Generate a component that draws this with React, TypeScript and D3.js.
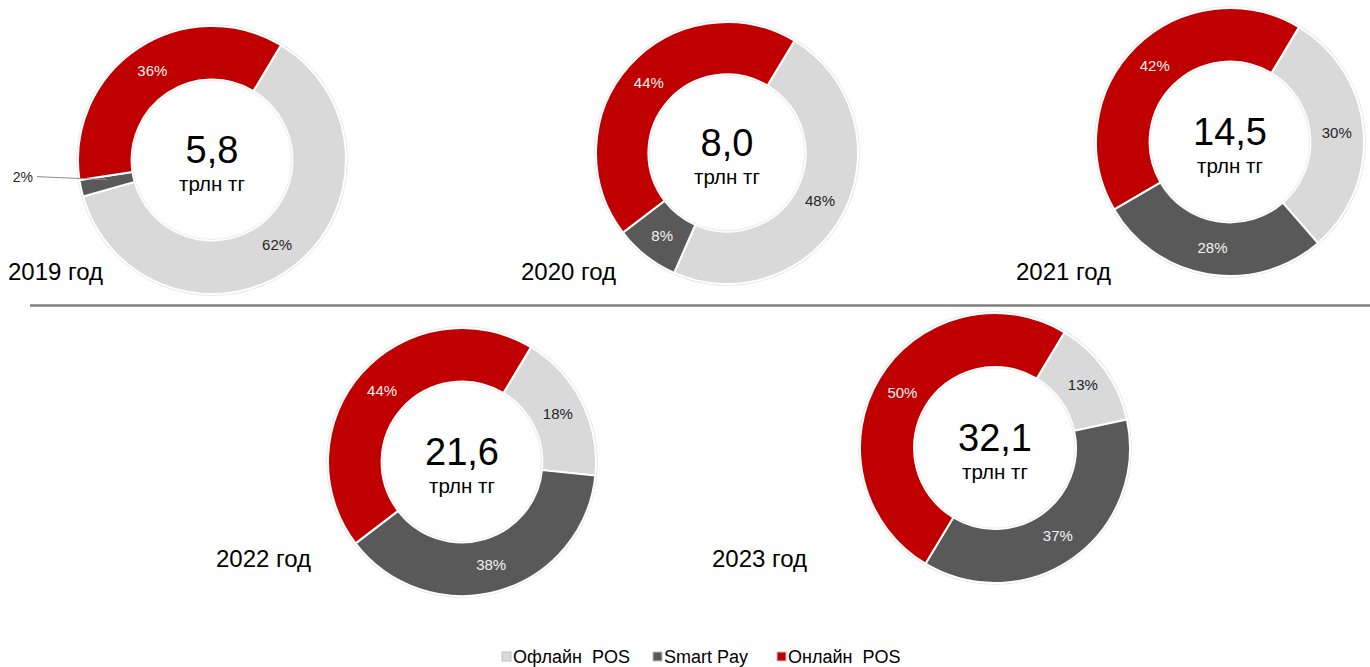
import React, { useRef, useEffect } from "react";
import * as d3 from "d3";

// data
const years = ["2019 год", "2020 год", "2021 год", "2022 год", "2023 год"];
const totals = ["5,8", "8,0", "14,5", "21,6", "32,1"];
const seriesNames = ["Офлайн POS", "Smart Pay", "Онлайн POS"];
const offline = [62, 48, 30, 18, 13];
const smartPay = [2, 8, 28, 38, 37];
const online = [36, 44, 42, 44, 50];

const colors = ["#D9D9D9", "#595959", "#C00000"];
const labelColors = ["#262626", "#F2F2F2", "#F2F2F2"];

// where each donut sits on the page
const layout = [
  { cx: 212, cy: 160, r: 134, yx: 8, yy: 280 },
  { cx: 727, cy: 153, r: 131, yx: 521, yy: 280 },
  { cx: 1230, cy: 142, r: 134, yx: 1016, yy: 280 },
  { cx: 462, cy: 462, r: 134, yx: 216, yy: 567 },
  { cx: 995, cy: 448, r: 135, yx: 712, yy: 567 },
];

const W = 1370;
const H = 667;
const FONT = "'Liberation Sans', Arial, sans-serif";

function App() {
  const svgRef = useRef<SVGSVGElement>(null);

  useEffect(() => {
    const svg = d3.select(svgRef.current);
    svg.selectAll("*").remove();

    const start = (31 * Math.PI) / 180;
    const pie = d3
      .pie<number>()
      .sort(null)
      .value((d) => d)
      .startAngle(start)
      .endAngle(start + 2 * Math.PI);

    years.forEach((year, i) => {
      const { cx, cy, r, yx, yy } = layout[i];
      const inner = r * 0.6;
      const vals = [offline[i], smartPay[i], online[i]];
      const arcs = pie(vals);
      const arc = d3.arc<d3.PieArcDatum<number>>().innerRadius(inner).outerRadius(r);
      const mid = (inner + r) / 2;

      const g = svg.append("g").attr("transform", `translate(${cx},${cy})`);

      g.append("circle")
        .attr("r", r + 1)
        .attr("fill", "none")
        .attr("stroke", "#e3e3e3")
        .attr("stroke-width", 1.5);

      g.selectAll(".slice")
        .data(arcs)
        .join("path")
        .attr("d", arc)
        .attr("fill", (d, j) => colors[j])
        .attr("stroke", "#fff")
        .attr("stroke-width", 2);

      g.append("circle")
        .attr("r", inner - 1)
        .attr("fill", "none")
        .attr("stroke", "#ececec")
        .attr("stroke-width", 1);

      arcs.forEach((a, j) => {
        const ang = (a.startAngle + a.endAngle) / 2;
        const px = mid * Math.sin(ang);
        const py = -mid * Math.cos(ang);
        if (a.data < 5) {
          // small slice: label outside with a leader line
          g.append("line")
            .attr("x1", px)
            .attr("y1", py - 3)
            .attr("x2", 37 - cx)
            .attr("y2", py - 6)
            .attr("stroke", "#8c8c8c")
            .attr("stroke-width", 1);
          g.append("text")
            .attr("x", 33 - cx)
            .attr("y", py - 1)
            .attr("text-anchor", "end")
            .attr("font-family", FONT)
            .attr("font-size", 14)
            .attr("fill", "#262626")
            .text(a.data + "%");
        } else {
          g.append("text")
            .attr("x", px)
            .attr("y", py)
            .attr("dy", "0.35em")
            .attr("text-anchor", "middle")
            .attr("font-family", FONT)
            .attr("font-size", 15)
            .attr("fill", labelColors[j])
            .text(a.data + "%");
        }
      });

      g.append("text")
        .attr("y", 3)
        .attr("text-anchor", "middle")
        .attr("font-family", FONT)
        .attr("font-size", 38)
        .attr("fill", "#000")
        .text(totals[i]);

      g.append("text")
        .attr("y", 31)
        .attr("text-anchor", "middle")
        .attr("font-family", FONT)
        .attr("font-size", 20.5)
        .attr("fill", "#000")
        .text("трлн тг");

      svg.append("text")
        .attr("x", yx)
        .attr("y", yy)
        .attr("font-family", FONT)
        .attr("font-size", 24)
        .attr("fill", "#000")
        .text(year);
    });

    // separator between rows
    svg.append("line")
      .attr("x1", 30)
      .attr("x2", W)
      .attr("y1", 305.5)
      .attr("y2", 305.5)
      .attr("stroke", "#808080")
      .attr("stroke-width", 2.5);

    // legend
    const legendX = [502, 653, 777];
    const legend = svg.append("g");
    seriesNames.forEach((name, j) => {
      legend.append("rect")
        .attr("x", legendX[j])
        .attr("y", 652)
        .attr("width", 9)
        .attr("height", 9)
        .attr("fill", colors[j])
        .attr("stroke", "#bfbfbf")
        .attr("stroke-width", 1);
      legend.append("text")
        .attr("x", legendX[j] + 11)
        .attr("y", 662.5)
        .attr("font-family", FONT)
        .attr("font-size", 18)
        .attr("fill", "#000")
        .style("white-space", "pre")
        .text(name.replace(" POS", "  POS"));
    });
  }, []);

  return (
    <svg
      ref={svgRef}
      width={W}
      height={H}
      style={{ position: "absolute", left: 0, top: 0, background: "#fff" }}
    ></svg>
  );
}

export default App;
